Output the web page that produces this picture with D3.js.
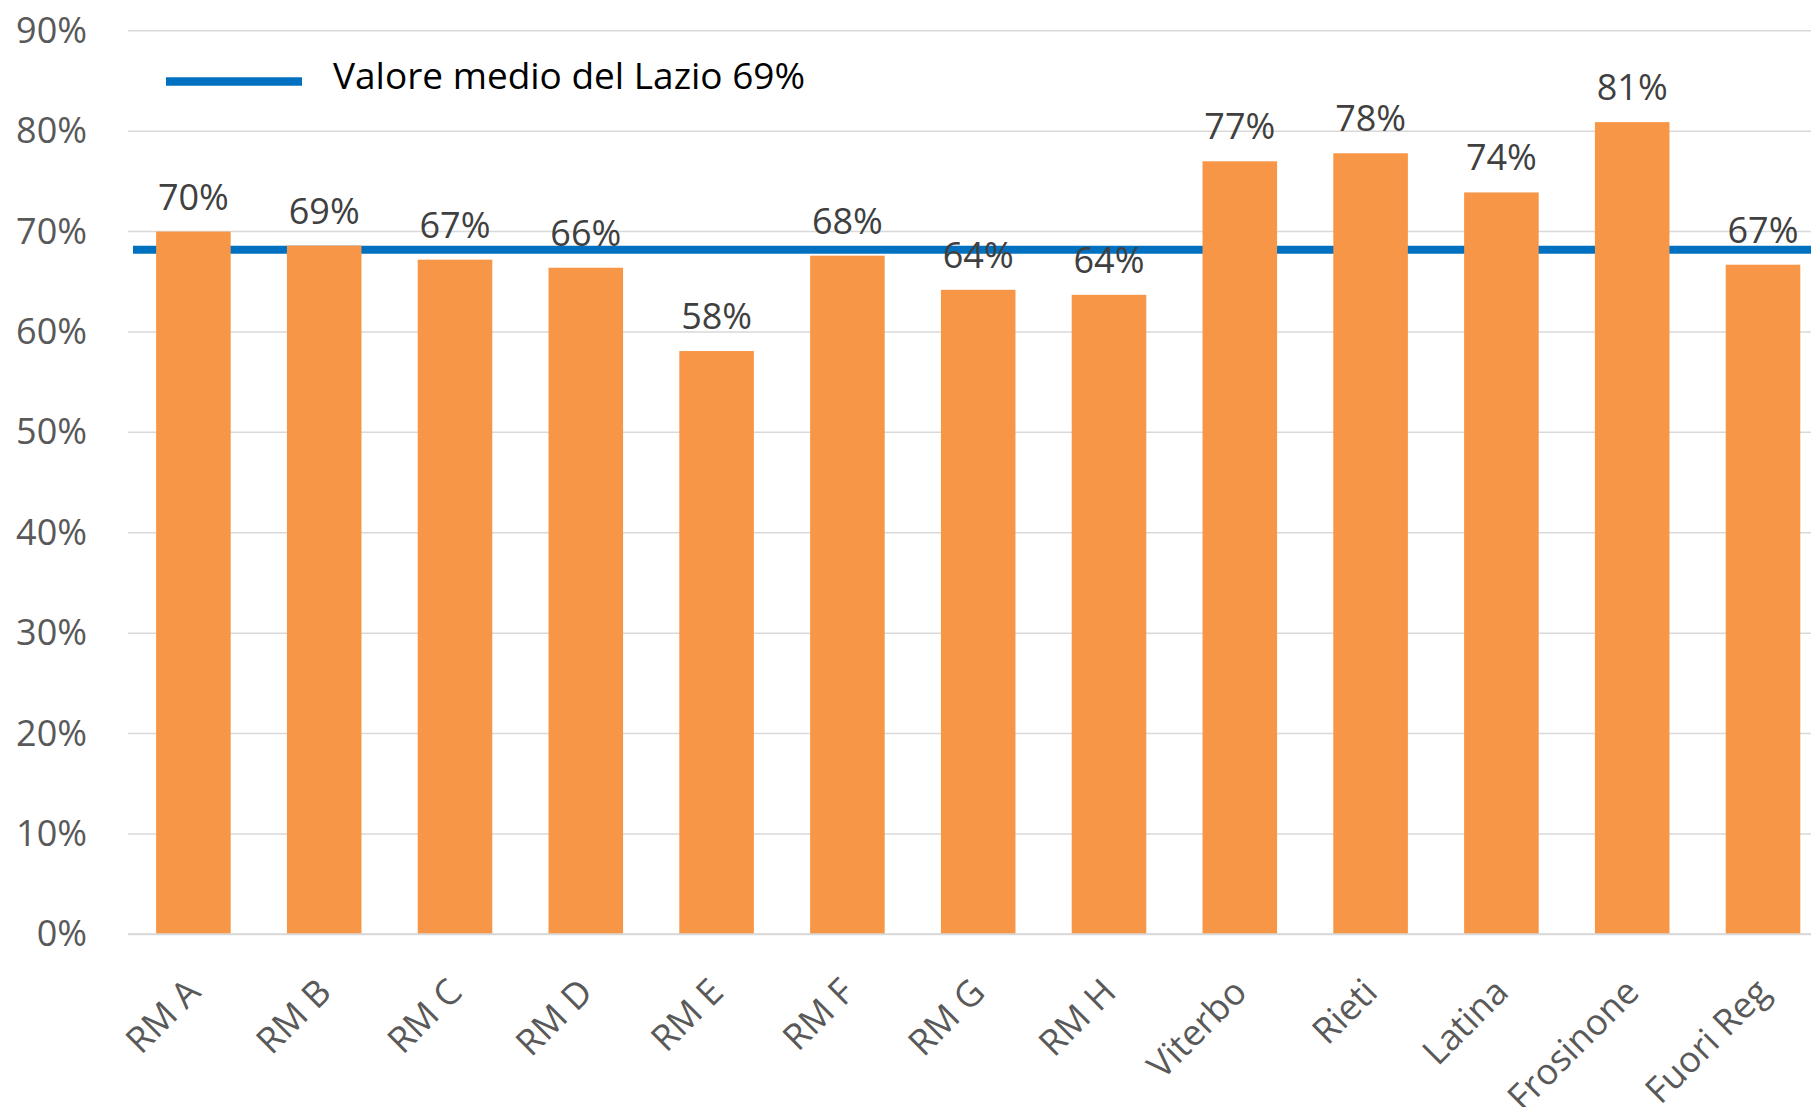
<!DOCTYPE html>
<html lang="it">
<meta charset="utf-8"/>
<head>
<style>
	body {
		margin: 0;
		background-color: #FFFFFF;
		overflow: hidden;
	}
	* {
		font-family: "Open Sans", sans-serif;
	}
	.grid line {
		stroke: #D9D9D9;
		stroke-width: 1.5;
	}
	.bar {
		fill: #F79646;
	}
	.tick-label {
		fill: #595959;
		font-size: 36px;
	}
	.data-label {
		fill: #404040;
		font-size: 36px;
	}
	#legend-text {
		fill: #000000;
		font-size: 36px;
	}
</style>
</head>
<body>
	<svg id="container" width="1811" height="1107"></svg>

<script src="https://d3js.org/d3.v7.min.js"></script>
<script>
	// data
	let categories = ["RM A", "RM B", "RM C", "RM D", "RM E", "RM F", "RM G", "RM H", "Viterbo", "Rieti", "Latina", "Frosinone", "Fuori Reg"]
	let values = [70.0, 68.6, 67.2, 66.4, 58.1, 67.6, 64.2, 63.7, 77.0, 77.8, 73.9, 80.9, 66.7]
	let labels = ["70%", "69%", "67%", "66%", "58%", "68%", "64%", "64%", "77%", "78%", "74%", "81%", "67%"]
	let yTicks = [0, 10, 20, 30, 40, 50, 60, 70, 80, 90]
	let avgValue = 68.2
	let legendLabel = "Valore medio del Lazio 69%"

	let width = 1811
	let height = 1107
	let svg = d3.select("svg")

	// plot area, the right side runs a bit past the picture edge
	let plotLeft = 128
	let step = 130.8
	let plotTop = 30.8
	let plotBottom = 934.3

	let xScale = d3.scaleBand()
		.domain(categories)
		.range([plotLeft, plotLeft + categories.length * step])
		.paddingInner(0.43)
		.paddingOuter(0.215)

	let yScale = d3.scaleLinear()
		.domain([0, 90])
		.range([plotBottom, plotTop])

	// gridlines
	svg.append("g")
		.attr("class", "grid")
		.selectAll("line")
		.data(yTicks)
		.enter()
		.append("line")
		.attr("x1", plotLeft)
		.attr("x2", width)
		.attr("y1", d => yScale(d))
		.attr("y2", d => yScale(d))

	// y axis labels
	let yAxis = d3.axisLeft(yScale)
		.tickValues(yTicks)
		.tickFormat(d => d + "%")
		.tickSize(0)
		.tickPadding(0)

	svg.append("g")
		.attr("id", "y-axis")
		.attr("transform", "translate(87,0)")
		.call(yAxis)
		.call(g => g.select(".domain").remove())
		.selectAll("text")
		.attr("class", "tick-label")

	svg.select("#y-axis").attr("font-size", null).attr("font-family", null)

	// average line of the region (behind the bars)
	svg.append("line")
		.attr("x1", plotLeft + 5)
		.attr("x2", width)
		.attr("y1", yScale(avgValue))
		.attr("y2", yScale(avgValue))
		.attr("stroke", "#0070C0")
		.attr("stroke-width", 8)

	// bars
	svg.selectAll("rect.bar")
		.data(values)
		.enter()
		.append("rect")
		.attr("class", "bar")
		.attr("x", (d, i) => xScale(categories[i]))
		.attr("width", xScale.bandwidth())
		.attr("y", d => yScale(d))
		.attr("height", d => plotBottom - yScale(d))

	// data labels over the bars
	svg.selectAll("text.data-label")
		.data(values)
		.enter()
		.append("text")
		.attr("class", "data-label")
		.attr("text-anchor", "middle")
		.attr("x", (d, i) => xScale(categories[i]) + xScale.bandwidth() / 2)
		.attr("y", d => yScale(d) - 22)
		.text((d, i) => labels[i])

	// category labels, turned 45 degrees
	let xAxis = d3.axisBottom(xScale)
		.tickSize(0)
		.tickPadding(0)

	let xg = svg.append("g")
		.attr("id", "x-axis")
		.attr("transform", "translate(0," + plotBottom + ")")
		.call(xAxis)
		.attr("font-size", null)
		.attr("font-family", null)

	xg.select(".domain")
		.attr("stroke", "#D9D9D9")
		.attr("stroke-width", 2)
		.attr("d", "M" + plotLeft + ",0H" + width)

	xg.selectAll("text")
		.attr("class", "tick-label")
		.attr("text-anchor", "end")
		.attr("y", 0)
		.attr("dy", "0.35em")
		.attr("transform", "translate(0,51) rotate(-45)")

	// legend
	svg.append("line")
		.attr("x1", 166)
		.attr("x2", 302)
		.attr("y1", 81.5)
		.attr("y2", 81.5)
		.attr("stroke", "#0070C0")
		.attr("stroke-width", 8.5)

	svg.append("text")
		.attr("id", "legend-text")
		.attr("x", 333)
		.attr("y", 89)
		.attr("textLength", 472)
		.attr("lengthAdjust", "spacingAndGlyphs")
		.text(legendLabel)
</script>
</body>
</html>
